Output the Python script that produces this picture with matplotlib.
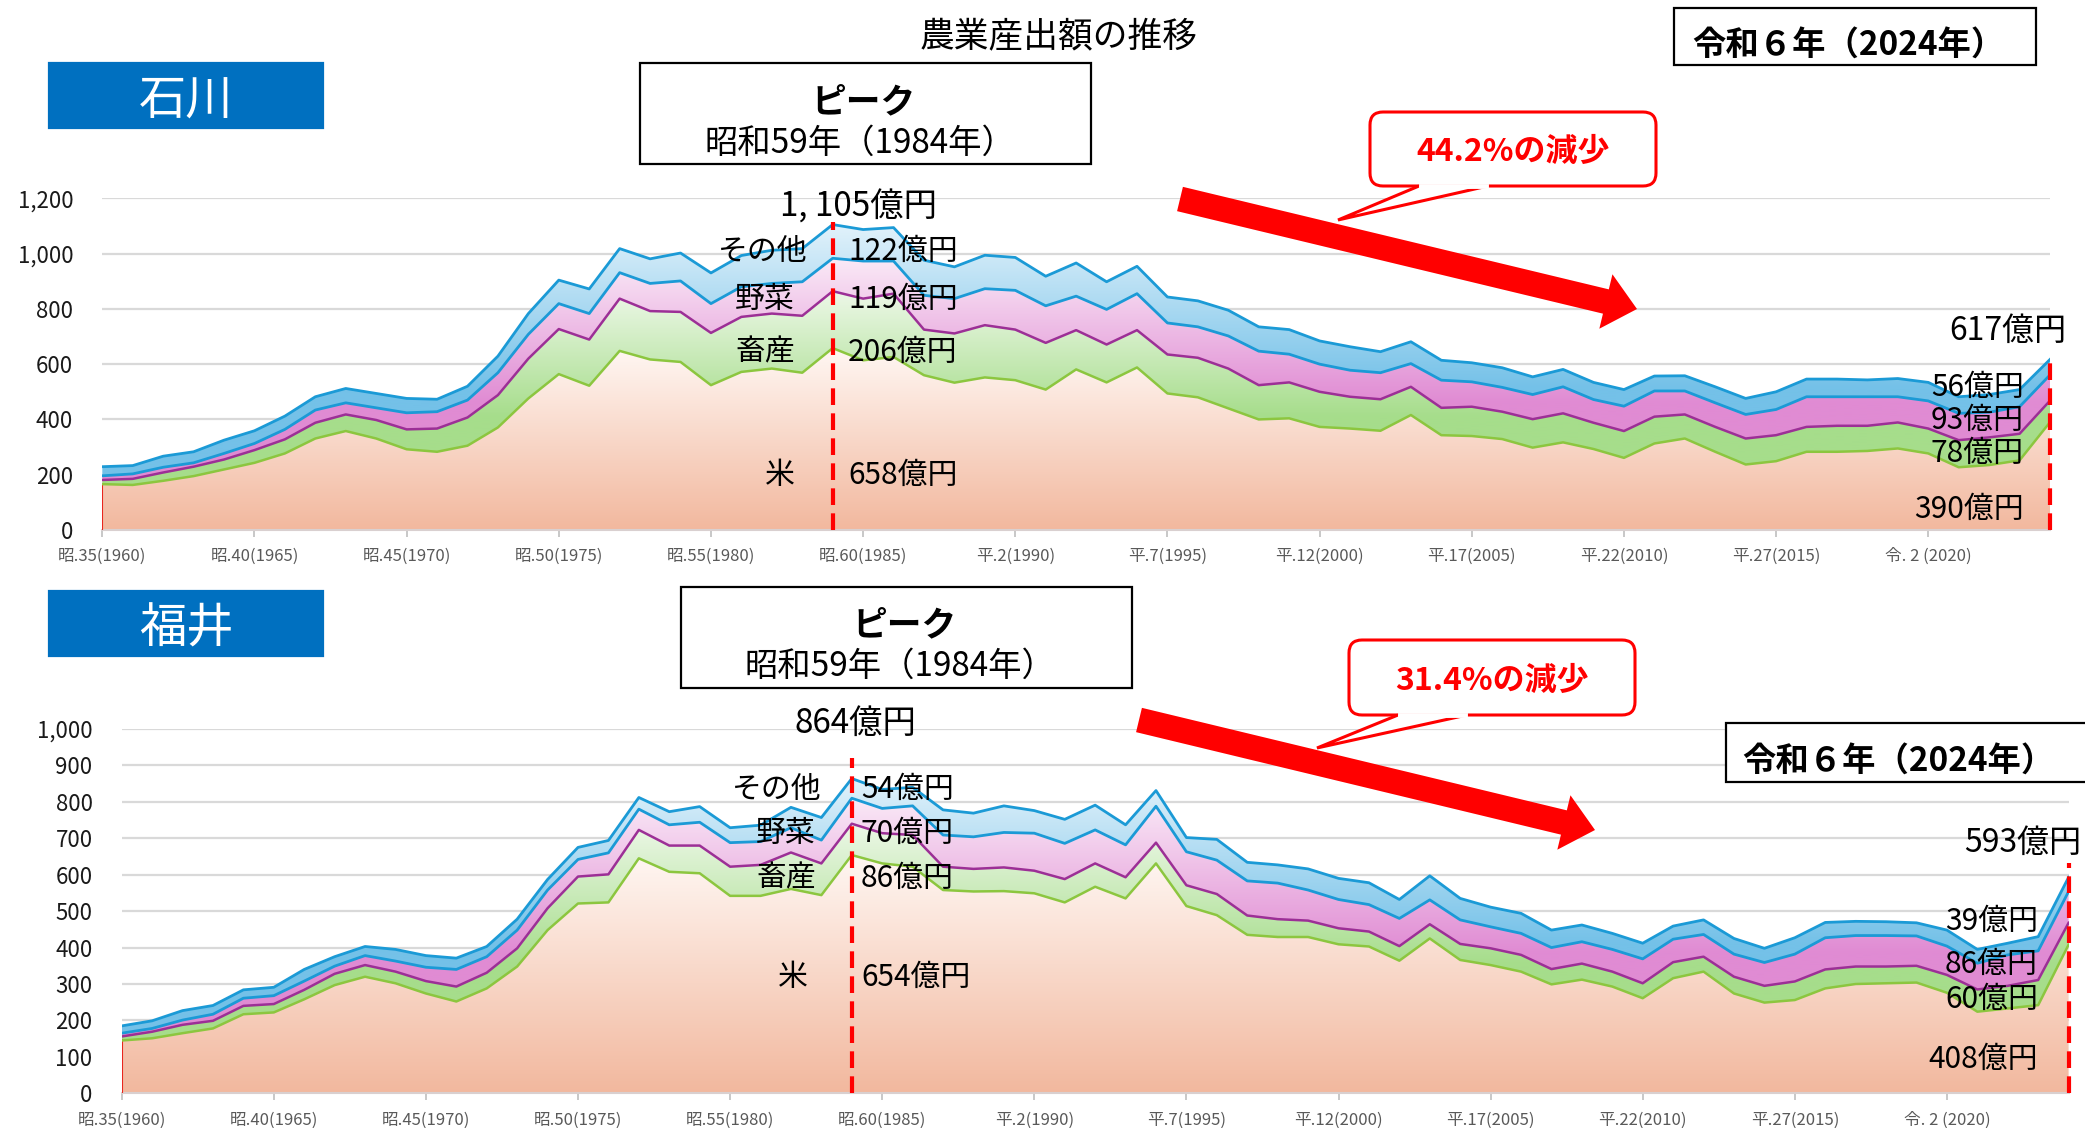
import numpy as np
import matplotlib
matplotlib.use('Agg')
import matplotlib.pyplot as plt
import matplotlib.transforms as mtransforms
from matplotlib.patches import Rectangle, FancyBboxPatch, Polygon
from matplotlib.colors import to_rgb

plt.rcParams['font.family'] = ['Noto Sans CJK JP', 'DejaVu Sans']

W, H = 2085, 1128

# x axis labels (every 5 years, 1960 .. 2020), data runs 1960 .. 2024
tick_labels = ['昭.35(1960)', '昭.40(1965)', '昭.45(1970)', '昭.50(1975)', '昭.55(1980)',
               '昭.60(1985)', '平.2(1990)', '平.7(1995)', '平.12(2000)', '平.17(2005)',
               '平.22(2010)', '平.27(2015)', '令. 2 (2020)']
tick_pos = [0, 5, 10, 15, 20, 25, 30, 35, 40, 45, 50, 55, 60]
series_names = ['米', '畜産', '野菜', 'その他']

# 石川 (億円)
ishikawa_rice = [166, 163, 178, 195, 219, 243, 277, 331, 358, 331, 292, 283, 305, 371, 476, 564,
                 522, 648, 617, 608, 524, 572, 584, 569, 658, 614, 626, 560, 533, 552, 542, 508,
                 581, 534, 588, 494, 480, 440, 400, 404, 373, 367, 359, 416, 343, 340, 329, 298,
                 317, 293, 261, 313, 331, 283, 237, 249, 283, 283, 286, 295, 277, 227, 235, 252, 390]
ishikawa_livestock = [15, 22, 30, 34, 36, 46, 51, 57, 60, 67, 72, 84, 102, 117, 144, 163,
                      167, 189, 175, 181, 189, 199, 199, 206, 206, 223, 229, 165, 178, 189, 183, 169,
                      142, 137, 135, 141, 143, 144, 124, 130, 127, 115, 114, 102, 99, 106, 99, 103,
                      105, 95, 97, 97, 87, 90, 94, 94, 90, 94, 91, 94, 90, 98, 100, 96, 78]
ishikawa_veg = [15, 18, 19, 14, 22, 24, 36, 46, 42, 44, 60, 61, 63, 81, 88, 92,
                94, 94, 100, 112, 106, 109, 109, 123, 119, 136, 118, 124, 126, 132, 142, 134,
                123, 127, 132, 114, 112, 118, 123, 102, 100, 96, 96, 84, 100, 90, 88, 89,
                96, 84, 90, 93, 85, 87, 87, 93, 109, 105, 105, 93, 100, 97, 91, 98, 93]
ishikawa_other = [33, 30, 40, 40, 48, 46, 48, 48, 52, 52, 52, 45, 50, 60, 75, 85,
                  89, 87, 89, 101, 111, 113, 120, 120, 122, 114, 121, 127, 115, 121, 119, 107,
                  120, 100, 99, 94, 94, 93, 88, 89, 84, 85, 76, 79, 72, 69, 71, 64,
                  63, 62, 60, 54, 55, 58, 58, 64, 64, 64, 61, 66, 67, 60, 64, 62, 56]

# 福井 (億円)
fukui_rice = [145, 151, 165, 178, 217, 222, 258, 297, 320, 302, 274, 252, 288, 348, 448, 521,
              524, 645, 608, 604, 542, 542, 561, 544, 654, 631, 622, 558, 554, 555, 549, 524,
              567, 535, 631, 514, 489, 435, 429, 429, 409, 403, 364, 425, 366, 352, 334, 299,
              312, 293, 261, 316, 334, 274, 249, 256, 288, 300, 302, 304, 276, 224, 233, 242, 408]
fukui_livestock = [11, 18, 23, 21, 23, 23, 26, 31, 32, 32, 34, 41, 43, 50, 60, 74,
                   77, 78, 72, 76, 80, 85, 100, 87, 86, 83, 87, 64, 62, 65, 62, 64,
                   64, 58, 57, 57, 58, 53, 49, 45, 44, 41, 40, 39, 44, 46, 46, 42,
                   44, 41, 41, 44, 41, 46, 46, 51, 52, 48, 46, 46, 49, 61, 62, 69, 60]
fukui_veg = [9, 9, 13, 18, 21, 23, 24, 21, 26, 29, 38, 47, 44, 50, 50, 47,
             59, 57, 57, 64, 66, 64, 68, 64, 70, 68, 80, 87, 88, 96, 103, 98,
             92, 89, 100, 92, 93, 95, 99, 84, 79, 74, 76, 67, 66, 59, 59, 59,
             60, 61, 67, 63, 61, 62, 64, 75, 87, 85, 85, 82, 79, 72, 85, 80, 86]
fukui_other = [20, 21, 26, 24, 23, 23, 32, 26, 25, 32, 32, 31, 28, 30, 29, 33,
               34, 32, 36, 43, 41, 45, 56, 62, 54, 52, 51, 69, 65, 73, 62, 66,
               68, 55, 43, 39, 57, 51, 50, 58, 58, 60, 52, 66, 59, 54, 55, 48,
               46, 44, 43, 36, 40, 43, 39, 45, 42, 39, 38, 36, 44, 38, 32, 39, 39]

# colours: (saturated, light) gradient per series, and outline colours
fills = [('#F2B89E', '#FFF7F3'), ('#A6DD8B', '#EDF8E8'), ('#E08BD3', '#FAEAF7'), ('#74C1E8', '#E2F2FB')]
line_colors = ['#8CC63F', '#9C2F96', '#1B9AD6', '#1B9AD6']
grad_start = [0.0, 0.35, 0.35, 0.35]

fig = plt.figure(figsize=(W / 100, H / 100), dpi=100)
px = mtransforms.Affine2D().scale(1 / W, -1 / H).translate(0, 1) + fig.transFigure


def gradient_fill(ax, x, lo, hi, sat, light, y0, y1, ymax):
    verts = np.concatenate([np.column_stack([x, hi]), np.column_stack([x[::-1], lo[::-1]])])
    clip = Polygon(verts, closed=True, facecolor='none', edgecolor='none', transform=ax.transData)
    ax.add_patch(clip)
    ys = np.linspace(0, ymax, 600)
    t = np.clip((ys - y0) / (y1 - y0), 0, 1)
    cs, cl = np.array(to_rgb(sat)), np.array(to_rgb(light))
    img = (cs * (1 - t[:, None]) + cl * t[:, None])[:, None, :]
    im = ax.imshow(img, extent=[x[0], x[-1], 0, ymax], origin='lower', aspect='auto',
                   interpolation='bilinear', zorder=1)
    im.set_clip_path(clip)


def draw_panel(ax, rice, live, veg, oth, ymax, ystep, pad_peak, pad_end):
    x = np.arange(len(rice))
    c1 = np.array(rice, dtype=float)
    c2 = c1 + live
    c3 = c2 + veg
    c4 = c3 + oth
    tops = [c1, c2, c3, c4]
    lows = [np.zeros_like(c1), c1, c2, c3]
    for k in range(4):
        y1 = tops[k].max()
        base = lows[k].min()
        y0 = base + grad_start[k] * (y1 - base)
        gradient_fill(ax, x, lows[k], tops[k], fills[k][0], fills[k][1], y0, y1, ymax)
    ax.plot([0, 0], [0, c1[0]], color='#E8261E', lw=1.5, zorder=3)
    for k in range(4):
        ax.plot(x, tops[k], color=line_colors[k], lw=1.8 if k < 2 else 2.0, zorder=3)

    pk = int(np.argmax(c4))
    last = len(x) - 1
    ax.plot([pk, pk], [0, c4[pk] + pad_peak], color='#FF0000', lw=3,
            linestyle=(0, (4, 2)), zorder=4, clip_on=False)
    ax.plot([last, last], [0, c4[last] + pad_end], color='#FF0000', lw=3,
            linestyle=(0, (4, 2)), zorder=4, clip_on=False)

    ax.set_xlim(0, last)
    ax.set_ylim(0, ymax)
    ax.set_yticks(np.arange(0, ymax + 1, ystep))
    ax.set_yticklabels([f'{int(v):,}' for v in np.arange(0, ymax + 1, ystep)])
    ax.set_xticks(tick_pos)
    ax.set_xticklabels(tick_labels)
    ax.grid(axis='y', color='#D9D9D9', lw=1.6, zorder=0)
    ax.set_axisbelow(True)
    for s in ['top', 'right', 'left']:
        ax.spines[s].set_visible(False)
    ax.spines['bottom'].set_color('#D9D0D0')
    ax.spines['bottom'].set_linewidth(1.5)
    ax.tick_params(axis='y', length=0, pad=21, labelsize=16, labelcolor='#1A1A1A')
    ax.tick_params(axis='x', length=5, width=1.2, color='#BFBFBF', pad=8,
                   labelsize=12, labelcolor='#595959')
    return c1, c2, c3, c4, pk


def box(x0, y0, x1, y1, fc='white', ec='black', lw=1.6):
    fig.add_artist(Rectangle((x0, y0), x1 - x0, y1 - y0, transform=px, facecolor=fc,
                             edgecolor=ec, lw=lw, zorder=10, clip_on=False))


def label(x, y, s, size, ha='center', color='black', weight='normal'):
    fig.text(x, y, s, transform=px, ha=ha, va='center', fontsize=size, color=color,
             fontweight=weight, zorder=12)


def callout(x0, y0, x1, y1, tx0, tx1, tip, s):
    fig.add_artist(FancyBboxPatch((x0, y0), x1 - x0, y1 - y0, boxstyle='round,pad=0,rounding_size=13',
                                  transform=px, facecolor='white', edgecolor='#FF0000', lw=2.2, zorder=11))
    fig.add_artist(Polygon([(tx0, y1), tip, (tx1, y1)], closed=False, transform=px,
                           facecolor='white', edgecolor='#FF0000', lw=2.2, zorder=11))
    fig.add_artist(plt.Line2D([tx0 + 2, tx1 - 2], [y1, y1], transform=px, color='white', lw=3.5, zorder=11))
    label((x0 + x1) / 2, (y0 + y1) / 2 + 3, s, 23, color='#FF0000', weight='bold')


def block_arrow(start, tip, w=12.5, hw=28, hl=32):
    s, t = np.array(start, float), np.array(tip, float)
    u = (t - s) / np.linalg.norm(t - s)
    n = np.array([-u[1], u[0]])
    b = t - u * hl
    pts = [s + n * w, b + n * w, b + n * hw, t, b - n * hw, b - n * w, s - n * w]
    fig.add_artist(Polygon(pts, closed=True, transform=px, facecolor='#FF0000', edgecolor='none', zorder=9))


ax1 = fig.add_axes([102.3 / W, 1 - 530 / H, (2050 - 102.3) / W, (530 - 198.3) / H])
ax2 = fig.add_axes([121.7 / W, 1 - 1093.3 / H, (2068.6 - 121.7) / W, (1093.3 - 729) / H])

i1 = draw_panel(ax1, ishikawa_rice, ishikawa_livestock, ishikawa_veg, ishikawa_other, 1200, 200, 8, 0)
i2 = draw_panel(ax2, fukui_rice, fukui_livestock, fukui_veg, fukui_other, 1000, 100, 56, 39)

# title and panel headers
label(1059, 37, '農業産出額の推移', 25)
box(49, 63, 323, 128, fc='#0070C0', ec='#0070C0')
label(186, 101, '石川', 34, color='white')
box(49, 591, 323, 656, fc='#0070C0', ec='#0070C0')
label(186, 629, '福井', 34, color='white')

# peak boxes
box(640, 63, 1091, 164)
label(864, 102, 'ピーク', 25, weight='bold')
label(860, 143, '昭和59年（1984年）', 24)
box(681, 587, 1132, 688)
label(905, 625, 'ピーク', 25, weight='bold')
label(900, 666, '昭和59年（1984年）', 24)

# 2024 boxes
box(1674, 8, 2036, 65)
label(1848, 46, '令和６年（2024年）', 24, weight='bold')
box(1726, 723, 2100, 782)
label(1898, 762, '令和６年（2024年）', 24, weight='bold')

# decline arrows + callouts
block_arrow((1180, 199), (1637, 309))
block_arrow((1139, 720), (1595, 830))
for (c1, c2, c3, c4, pk), box_xy, tail in [
        (i1, (1370, 112, 1656, 186), (1419, 1488, (1338, 220))),
        (i2, (1349, 640, 1635, 715), (1398, 1467, (1317, 748)))]:
    rate = (1 - c4[-1] / c4[pk]) * 100
    callout(*box_xy, tail[0], tail[1], tail[2], f'{rate:.1f}%の減少')

# value labels at peak (1984) and latest year (2024)
peak_layout = [
    (i1, 859, 207, [795, 795, 795, 808], 848, [475, 352, 299, 251], 2008, 331, 2024, [509, 453, 420, 387]),
    (i2, 855, 723, [808, 816, 816, 822], 861, [977, 878, 833, 789], 2023, 843, 2038, [1059, 999, 964, 921]),
]
for (c1, c2, c3, c4, pk), tx, ty, nxs, vx, ys, ex, ey, rx, rys in peak_layout:
    comps = [c1, c2 - c1, c3 - c2, c4 - c3]
    label(tx, ty, f'{int(c4[pk]):,}億円'.replace(',', ', '), 24)
    label(ex, ey, f'{int(c4[-1]):,}億円', 23)
    for k in range(4):
        label(nxs[k], ys[k], series_names[k], 21.5, ha='right')
        label(vx, ys[k], f'{int(comps[k][pk])}億円', 21.5, ha='left')
        label(rx, rys[k], f'{int(comps[k][-1])}億円', 21.5, ha='right')

fig.savefig('out.png', dpi=100, facecolor='white')
